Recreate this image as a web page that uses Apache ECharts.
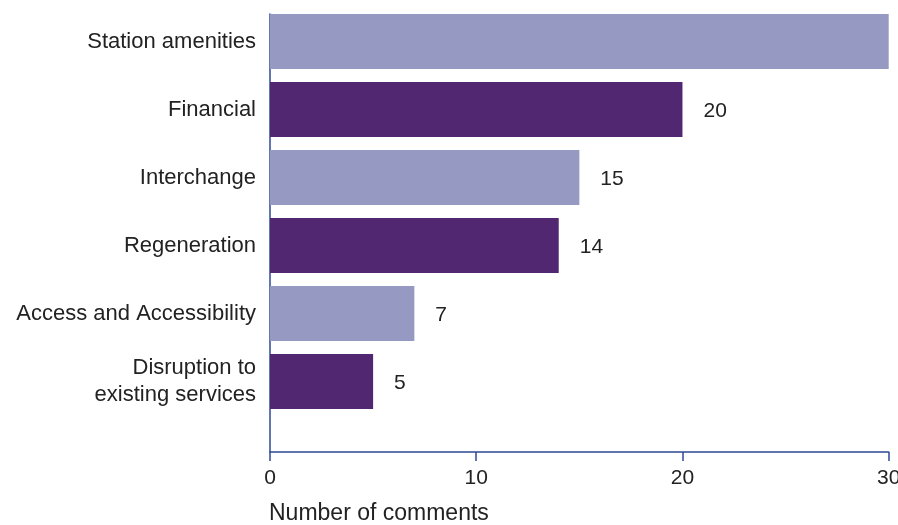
<!DOCTYPE html>
<html>
<head>
<meta charset="utf-8">
<script src="https://cdn.jsdelivr.net/npm/echarts@6/dist/echarts.min.js"></script>
<style>
  html, body { margin: 0; padding: 0; background: #fff; }
  #chart { width: 898px; height: 525px; }
</style>
</head>
<body>
<div id="chart"></div>
<script>
// Comment topics, top to bottom
const categories = [
  'Station amenities',
  'Financial',
  'Interchange',
  'Regeneration',
  'Access and Accessibility',
  'Disruption to\nexisting services'
];
const comments = [30, 20, 15, 14, 7, 5];
const xTicks = [0, 10, 20, 30];

const LIGHT = '#9699c1';
const DARK = '#522772';
const AXIS = '#2e4a94';
const FONT = 'Liberation Sans, Arial, sans-serif';

const chart = echarts.init(document.getElementById('chart'), null, { renderer: 'canvas' });

chart.setOption({
  animation: false,
  title: {
    text: 'Number of comments',
    left: 264,
    top: 497,
    textStyle: { fontFamily: FONT, fontSize: 23, fontWeight: 'normal', color: '#222' }
  },
  grid: [
    // bars
    { left: 270, right: 9.3, top: 7.5, bottom: 109.5, containLabel: false, outerBoundsMode: 'none' },
    // axis frame
    { left: 270, right: 9.3, top: 14, bottom: 73, containLabel: false, outerBoundsMode: 'none' }
  ],
  xAxis: [
    {
      gridIndex: 0, type: 'value', min: xTicks[0], max: xTicks[xTicks.length - 1],
      show: false
    },
    {
      gridIndex: 1, type: 'value', min: xTicks[0], max: xTicks[xTicks.length - 1],
      interval: xTicks[1] - xTicks[0],
      axisLine: { show: true, lineStyle: { color: AXIS, width: 1.5 } },
      axisTick: { show: true, length: 9, lineStyle: { color: AXIS, width: 1.5 } },
      axisLabel: { fontFamily: FONT, fontSize: 21, color: '#222', margin: 16 },
      splitLine: { show: false }
    }
  ],
  yAxis: [
    {
      gridIndex: 0, type: 'category', data: categories, inverse: true,
      axisLine: { show: false },
      axisTick: { show: false },
      axisLabel: {
        fontFamily: FONT, fontSize: 22, color: '#222', margin: 14,
        lineHeight: 27, align: 'right'
      }
    },
    {
      gridIndex: 1, type: 'category', data: [''],
      axisLine: { show: true, lineStyle: { color: AXIS, width: 1.5 } },
      axisTick: { show: false },
      axisLabel: { show: false }
    }
  ],
  series: [
    {
      type: 'bar',
      xAxisIndex: 0,
      yAxisIndex: 0,
      barWidth: 55,
      data: comments.map((v, i) => ({
        value: v,
        itemStyle: { color: i % 2 === 0 ? LIGHT : DARK }
      })),
      label: {
        show: true,
        position: 'right',
        distance: 21,
        offset: [0, 2],
        fontFamily: FONT,
        fontSize: 21,
        color: '#222'
      }
    }
  ]
});
</script>
</body>
</html>
